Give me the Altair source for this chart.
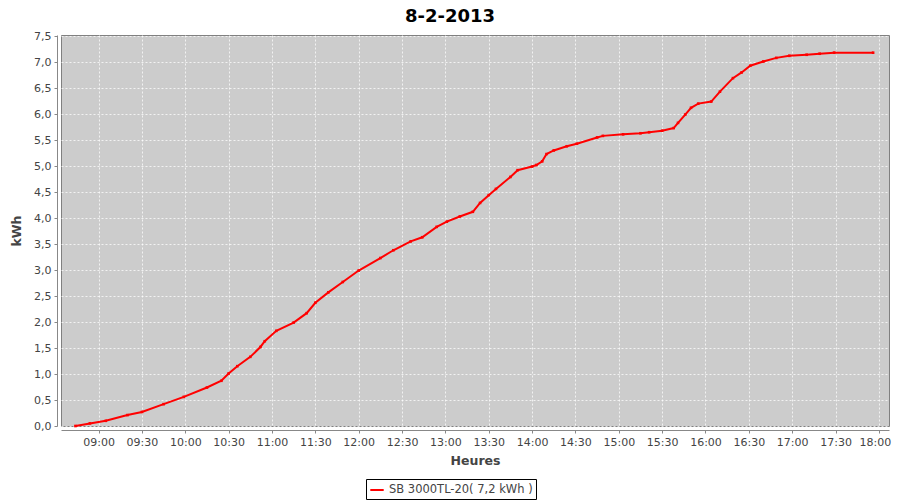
import altair as alt
import pandas as pd

times = ["08:44", "08:54", "09:05", "09:20", "09:30", "09:45", "09:59", "10:15", "10:25", "10:30",
         "10:36", "10:45", "10:52", "10:55", "11:03", "11:15", "11:24", "11:30", "11:39", "11:49",
         "12:00", "12:15", "12:24", "12:36", "12:44", "12:54", "13:01", "13:10", "13:19", "13:24",
         "13:30", "13:35", "13:45", "13:50", "14:00", "14:03", "14:07", "14:10", "14:15", "14:24",
         "14:31", "14:45", "14:49", "15:03", "15:15", "15:21", "15:30", "15:38", "15:41", "15:46",
         "15:50", "15:55", "16:04", "16:10", "16:19", "16:25", "16:31", "16:40", "16:49", "16:58",
         "17:10", "17:19", "17:29", "17:56"]
kwh = [0.00, 0.05, 0.10, 0.21, 0.27, 0.42, 0.56, 0.74, 0.87, 1.01,
       1.15, 1.33, 1.52, 1.63, 1.83, 1.99, 2.17, 2.37, 2.57, 2.77,
       2.99, 3.23, 3.38, 3.55, 3.63, 3.83, 3.93, 4.03, 4.12, 4.29,
       4.44, 4.56, 4.79, 4.92, 4.99, 5.02, 5.09, 5.23, 5.30, 5.38,
       5.43, 5.55, 5.58, 5.61, 5.63, 5.65, 5.68, 5.73, 5.83, 5.99,
       6.12, 6.20, 6.24, 6.43, 6.69, 6.80, 6.93, 7.01, 7.08, 7.12,
       7.14, 7.16, 7.18, 7.18]
series_name = "SB 3000TL-20( 7,2 kWh )"
date = "2013-02-08"
tick_times = ["09:00", "09:30", "10:00", "10:30", "11:00", "11:30", "12:00", "12:30", "13:00",
              "13:30", "14:00", "14:30", "15:00", "15:30", "16:00", "16:30", "17:00", "17:30", "18:00"]
y_ticks = [0, 0.5, 1, 1.5, 2, 2.5, 3, 3.5, 4, 4.5, 5, 5.5, 6, 6.5, 7, 7.5]


def dt(hm):
    h, m = hm.split(":")
    return alt.DateTime(year=2013, month=2, date=8, hours=int(h), minutes=int(m))


df = pd.DataFrame({
    "t": [f"{date}T{t}:00" for t in times],
    "kwh": kwh,
    "serie": series_name,
})

FONT = "DejaVu Sans"

chart = alt.Chart(df).mark_line(
    strokeWidth=2, interpolate="linear",
    point=alt.OverlayMarkDef(shape="square", size=7, filled=True, color="#ff0000", opacity=1),
).encode(
    x=alt.X("t:T",
            scale=alt.Scale(domain=[dt("08:34"), dt("18:07")]),
            axis=alt.Axis(title="Heures", values=[dt(t) for t in tick_times], format="%H:%M",
                          offset=4, tickSize=3, labelPadding=3, titlePadding=7,
                          labelOffset={"condition": {"test": "datum.label == '18:00'", "value": -4}, "value": 0},
                          labelFont=FONT, labelFontSize=11, labelColor="#444444",
                          titleFont=FONT, titleFontSize=12.5, titleFontWeight="bold", titleColor="#444444",
                          domainColor="#888888", tickColor="#888888",
                          grid=True, gridColor="#ffffff", gridOpacity=0.75, gridDash=[2, 2],
                          labelOverlap=False)),
    y=alt.Y("kwh:Q",
            scale=alt.Scale(domain=[0, 7.52], nice=False, zero=True),
            axis=alt.Axis(title="kWh", values=y_ticks,
                          labelExpr="replace(format(datum.value, '.1f'), '.', ',')",
                          offset=4, tickSize=3, labelPadding=3, titlePadding=10,
                          labelFont=FONT, labelFontSize=11, labelColor="#444444",
                          titleFont=FONT, titleFontSize=12.5, titleFontWeight="bold", titleColor="#444444",
                          domainColor="#888888", tickColor="#888888",
                          grid=True, gridColor="#ffffff", gridOpacity=0.75, gridDash=[2, 2])),
    color=alt.Color("serie:N", scale=alt.Scale(range=["#ff0000"]),
                    legend=alt.Legend(title=None, orient="none", legendX=305, legendY=444,
                                      strokeColor="#000000", padding=3, cornerRadius=0,
                                      symbolType="stroke", symbolStrokeWidth=2, symbolSize=180,
                                      labelFont=FONT, labelFontSize=11.5, labelColor="#444444",
                                      fillColor="#ffffff")),
).properties(
    width=828,
    height=391,
    title=alt.TitleParams("8-2-2013", font=FONT, fontSize=18, fontWeight="bold", color="#000000",
                          anchor="middle", offset=4, dx=-25),
    autosize=alt.AutoSizeParams(type="none"),
    padding={"left": 53, "top": 27, "right": 3, "bottom": 74},
).configure_view(
    fill="#cccccc", stroke="#808080", strokeWidth=1
)

chart.save("out.html", embed_options={"renderer": "svg", "actions": False})
